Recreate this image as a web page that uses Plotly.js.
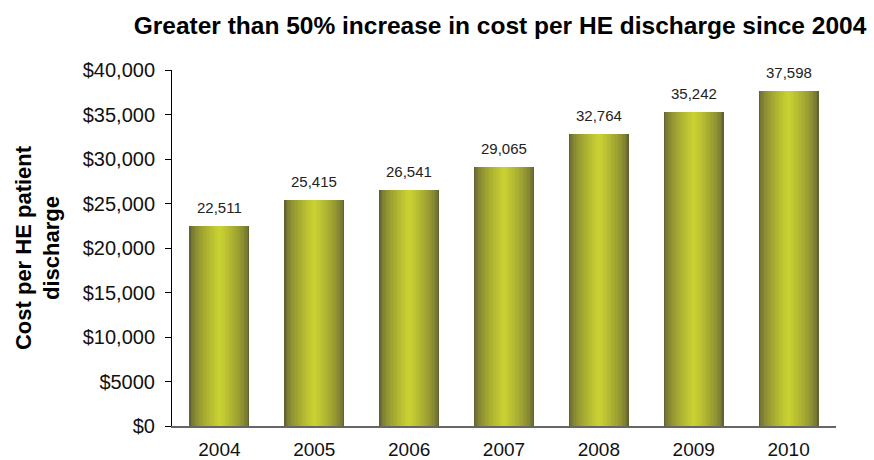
<!DOCTYPE html>
<html>
<head>
<meta charset="utf-8">
<script src="https://cdn.plot.ly/plotly-3.0.1.min.js"></script>
<style>html,body{margin:0;padding:0;background:#fff;}#chart{width:874px;height:460px;}</style>
</head>
<body>
<div id="chart"></div>
<script>
// ---- data ----
var years = ["2004", "2005", "2006", "2007", "2008", "2009", "2010"];
var costPerDischarge = [22511, 25415, 26541, 29065, 32764, 35242, 37598];
var yTickValues = [0, 5000, 10000, 15000, 20000, 25000, 30000, 35000, 40000];
var yTickLabels = ["$0", "$5000", "$10,000", "$15,000", "$20,000", "$25,000", "$30,000", "$35,000", "$40,000"];
var chartTitle = "Greater than 50% increase in cost per HE discharge since 2004";
var yAxisTitle = "Cost per HE patient<br>discharge";

// ---- gradient bars (overlayed bars of decreasing width) ----
var edge = [98, 98, 50];
var center = [201, 209, 50];
var fullWidth = 0.632;
var steps = 22;
function mix(t) {
  var f = Math.pow(t, 0.6);
  var c = edge.map(function (e, k) { return Math.round(e + (center[k] - e) * f); });
  return "rgb(" + c.join(",") + ")";
}
var traces = [];
for (var i = 0; i < steps; i++) {
  var t = i / (steps - 1);
  traces.push({
    type: "bar",
    x: years,
    y: costPerDischarge,
    width: fullWidth * (1 - i / steps),
    marker: { color: mix(t), line: { width: 0 } },
    hoverinfo: i === 0 ? "x+y" : "skip",
    showlegend: false
  });
}

var fmt = function (v) { return v.toLocaleString("en-US"); };
var annotations = years.map(function (yr, j) {
  return {
    x: j, y: costPerDischarge[j], xref: "x", yref: "y",
    text: fmt(costPerDischarge[j]), showarrow: false,
    yanchor: "bottom", yshift: 8,
    font: { family: "Liberation Sans, Arial, sans-serif", size: 15, color: "#222" }
  };
});

var layout = {
  width: 874, height: 460,
  margin: { l: 172, r: 38, t: 70, b: 34 },
  paper_bgcolor: "#fff", plot_bgcolor: "#fff",
  barmode: "overlay",
  bargap: 0,
  font: { family: "Liberation Sans, Arial, sans-serif", color: "#111" },
  title: {
    text: "<b>" + chartTitle + "</b>",
    font: { size: 24.5, color: "#000" },
    x: 500 / 874, xanchor: "center", xref: "container",
    y: 1 - 25 / 460, yanchor: "middle", yref: "container"
  },
  xaxis: {
    type: "category",
    range: [-0.5, 6.5],
    autorange: false,
    showline: true, linecolor: "#666", linewidth: 1.5,
    ticks: "outside", ticklen: 6, tickcolor: "rgba(0,0,0,0)",
    showgrid: false, zeroline: false,
    tickfont: { size: 19, color: "#111" }
  },
  yaxis: {
    range: [0, 40000],
    autorange: false,
    tickvals: yTickValues, ticktext: yTickLabels,
    showline: true, linecolor: "#000", linewidth: 1,
    ticks: "outside", ticklen: 6, tickcolor: "#000",
    ticklabelstandoff: 6,
    showgrid: false, zeroline: false,
    tickfont: { size: 20, color: "#111" },
    title: {
      text: "<b>" + yAxisTitle + "</b>",
      font: { size: 22, color: "#000" },
      standoff: 16
    }
  },
  annotations: annotations
};

Plotly.newPlot("chart", traces, layout, { displayModeBar: false, staticPlot: true });
</script>
</body>
</html>
